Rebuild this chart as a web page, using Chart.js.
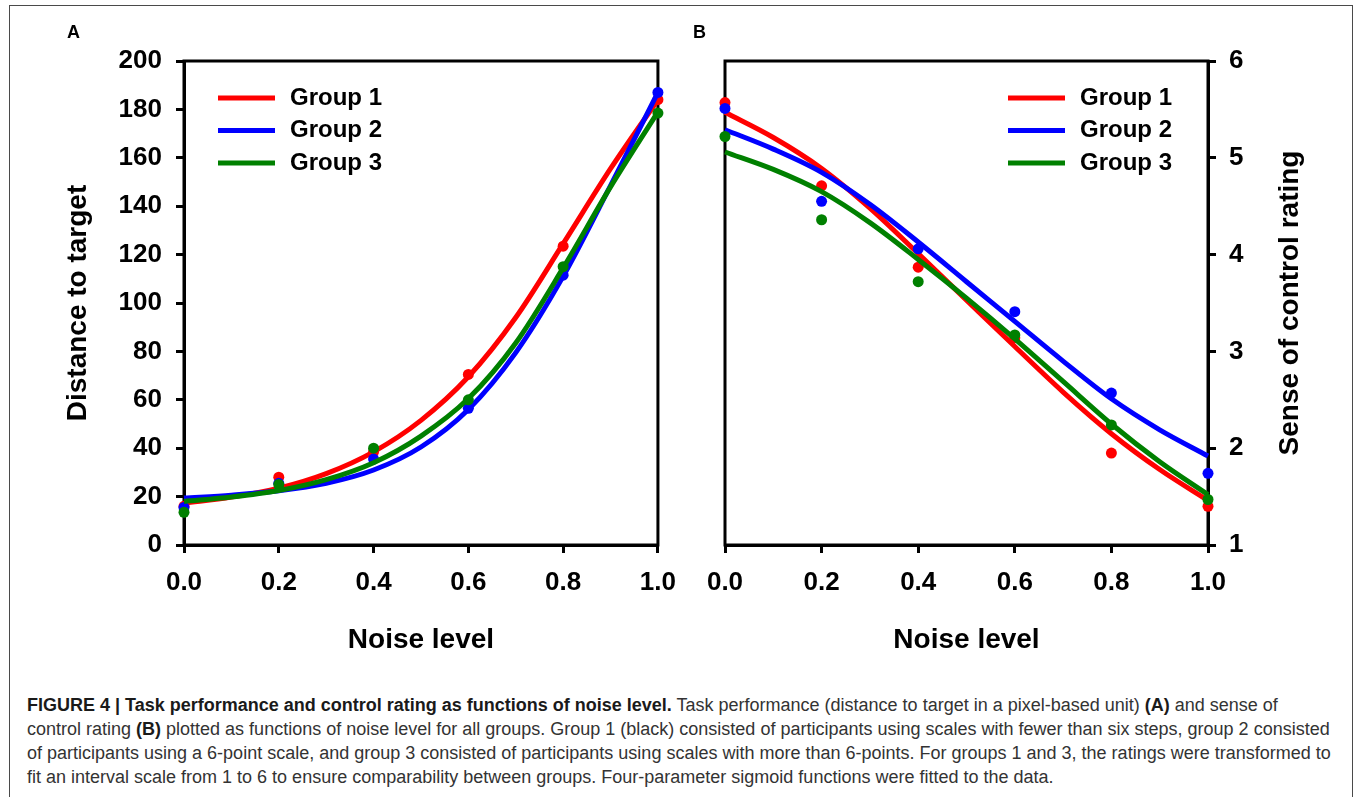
<!DOCTYPE html>
<html>
<head>
<meta charset="utf-8">
<script src="https://cdn.jsdelivr.net/npm/chart.js@4.4.1/dist/chart.umd.min.js"></script>
<style>
html,body{margin:0;padding:0;background:#fff;}
body{width:1355px;height:797px;position:relative;overflow:hidden;font-family:"Liberation Sans",Arial,sans-serif;}
#frame{position:absolute;left:9px;top:5px;width:1344px;height:820px;border:1px solid #4a4a4a;box-sizing:border-box;}
#cA{position:absolute;left:0;top:0;}
#cB{position:absolute;left:690px;top:0;}
.panel{position:absolute;font-weight:bold;font-size:18px;line-height:18px;color:#000;}
#caption{position:absolute;left:27px;top:693px;font-family:"Liberation Sans",Arial,sans-serif;font-size:18px;line-height:24px;color:#333;white-space:nowrap;}
#caption b{color:#1a1a1a;}
</style>
</head>
<body>
<div id="frame"></div>
<canvas id="cA" width="690" height="665"></canvas>
<canvas id="cB" width="665" height="665"></canvas>
<div class="panel" style="left:67px;top:23px;">A</div>
<div class="panel" style="left:693px;top:23px;">B</div>
<div id="caption"><b>FIGURE 4 | Task performance and control rating as functions of noise level.</b> Task performance (distance to target in a pixel-based unit) <b>(A)</b> and sense of<br>control rating <b>(B)</b> plotted as functions of noise level for all groups. Group 1 (black) consisted of participants using scales with fewer than six steps, group 2 consisted<br>of participants using a 6-point scale, and group 3 consisted of participants using scales with more than 6-points. For groups 1 and 3, the ratings were transformed to<br>fit an interval scale from 1 to 6 to ensure comparability between groups. Four-parameter sigmoid functions were fitted to the data.</div>
<script>
// ---- data ----
const noiseLevels = [0, 0.2, 0.4, 0.6, 0.8, 1.0];
const curveNoise = [0, 0.1, 0.2, 0.3, 0.4, 0.5, 0.6, 0.7, 0.8, 0.9, 1.0];
const groupLabels = ['Group 1', 'Group 2', 'Group 3'];
const groupColors = ['#ff0000', '#0000ff', '#008000'];
const xTickLabels = ['0.0', '0.2', '0.4', '0.6', '0.8', '1.0'];
const distanceTicks = [0, 20, 40, 60, 80, 100, 120, 140, 160, 180, 200];
const controlTicks = [1, 2, 3, 4, 5, 6];

// Panel A: distance to target (observed means)
const distanceG1 = [16, 28, 38.5, 70.5, 123.5, 184];
const distanceG2 = [15.5, 25.5, 35.5, 56.5, 111.5, 187];
const distanceG3 = [13.5, 25, 40, 60, 115, 178.5];
// Panel A: fitted sigmoid curves
const distanceFitG1 = [17.3, 19.8, 23.5, 29.5, 38.5, 51.5, 69.5, 94, 124.5, 155.5, 184];
const distanceFitG2 = [19.4, 20.6, 22.4, 25.5, 31, 40.5, 56, 79.5, 111, 148.5, 187];
const distanceFitG3 = [18, 19.8, 22.5, 27, 34, 45, 60.5, 83.5, 114.5, 148, 179];

// Panel B: sense of control rating (observed means)
const controlG1 = [5.57, 4.71, 3.87, 3.14, 1.95, 1.40];
const controlG2 = [5.51, 4.55, 4.06, 3.41, 2.57, 1.74];
const controlG3 = [5.22, 4.36, 3.72, 3.17, 2.24, 1.47];
// Panel B: fitted sigmoid curves
const controlFitG1 = [5.47, 5.21, 4.89, 4.48, 4.01, 3.53, 3.05, 2.58, 2.15, 1.78, 1.46];
const controlFitG2 = [5.29, 5.09, 4.85, 4.52, 4.13, 3.72, 3.31, 2.9, 2.51, 2.19, 1.92];
const controlFitG3 = [5.06, 4.88, 4.65, 4.33, 3.95, 3.55, 3.13, 2.69, 2.25, 1.86, 1.52];

// ---- helpers ----
const FONT = '"Liberation Sans", Arial, sans-serif';
Chart.defaults.font.family = FONT;
Chart.defaults.color = '#000';

function buildDatasets(pointSets, fitSets) {
  const ds = [];
  for (let i = 0; i < 3; i++) {
    ds.push({
      label: groupLabels[i],
      data: curveNoise.map((x, j) => ({x: x, y: fitSets[i][j]})),
      borderColor: groupColors[i],
      backgroundColor: groupColors[i],
      borderWidth: 5,
      pointRadius: 0,
      cubicInterpolationMode: 'monotone',
      fill: false,
      clip: false,
      order: 6 - 2 * i
    });
    ds.push({
      label: groupLabels[i] + ' data',
      data: noiseLevels.map((x, j) => ({x: x, y: pointSets[i][j]})),
      showLine: false,
      backgroundColor: groupColors[i],
      borderColor: groupColors[i],
      borderWidth: 0,
      pointRadius: 5.5,
      clip: false,
      order: 5 - 2 * i
    });
  }
  return ds;
}

const framePlugin = {
  id: 'frameBox',
  beforeDatasetsDraw(chart) {
    const {ctx, chartArea: ca} = chart;
    ctx.save();
    ctx.strokeStyle = '#000';
    ctx.lineWidth = 3;
    ctx.strokeRect(ca.left, ca.top, ca.right - ca.left, ca.bottom - ca.top);
    ctx.restore();
  }
};

const legendPlugin = {
  id: 'groupLegend',
  afterDatasetsDraw(chart, args, opts) {
    const {ctx, chartArea: ca} = chart;
    ctx.save();
    ctx.font = 'bold 24px ' + FONT;
    ctx.textBaseline = 'middle';
    ctx.textAlign = 'left';
    const lines = chart.data.datasets.filter(d => d.showLine !== false);
    lines.forEach((d, i) => {
      const y = ca.top + opts.top + i * opts.spacing;
      const x0 = ca.left + opts.left;
      ctx.strokeStyle = d.borderColor;
      ctx.lineWidth = 5;
      ctx.beginPath();
      ctx.moveTo(x0, y);
      ctx.lineTo(x0 + opts.lineLen, y);
      ctx.stroke();
      ctx.fillStyle = '#000';
      ctx.fillText(d.label, x0 + opts.lineLen + 15, y);
    });
    ctx.restore();
  }
};

const rightTitlePlugin = {
  id: 'rightTitle',
  afterDraw(chart, args, opts) {
    if (!opts.text) return;
    const {ctx, chartArea: ca} = chart;
    ctx.save();
    ctx.font = 'bold 28px ' + FONT;
    ctx.fillStyle = '#000';
    ctx.textAlign = 'center';
    ctx.textBaseline = 'middle';
    ctx.translate(opts.x, (ca.top + ca.bottom) / 2);
    ctx.rotate(-Math.PI / 2);
    ctx.fillText(opts.text, 0, 0);
    ctx.restore();
  }
};

function axisCommon() {
  return {
    grid: {display: true, drawOnChartArea: false, drawTicks: true, tickLength: 8, tickWidth: 3, tickColor: '#000', color: '#000', lineWidth: 3},
    border: {display: true, color: '#000', width: 3}
  };
}

function xAxis() {
  return Object.assign(axisCommon(), {
    type: 'linear', position: 'bottom', min: 0, max: 1,
    afterBuildTicks: s => { s.ticks = noiseLevels.map(v => ({value: v})); },
    ticks: {
      font: {size: 26, weight: 'bold'}, color: '#000', padding: 14, maxRotation: 0, autoSkip: false,
      callback: (v, i) => xTickLabels[i]
    },
    title: {display: true, text: 'Noise level', font: {size: 28, weight: 'bold'}, color: '#000', padding: {top: 0, bottom: 8}},
    afterFit: s => { s.height = 120; }
  });
}

// ---- Panel A ----
new Chart(document.getElementById('cA'), {
  type: 'line',
  data: {datasets: buildDatasets([distanceG1, distanceG2, distanceG3], [distanceFitG1, distanceFitG2, distanceFitG3])},
  options: {
    responsive: false, animation: false, devicePixelRatio: 1,
    layout: {padding: {left: 0, top: 61, right: 22, bottom: 0}},
    plugins: {legend: {display: false}, tooltip: {enabled: false},
      groupLegend: {left: 34, top: 37, spacing: 32.5, lineLen: 57}},
    scales: {
      x: xAxis(),
      y: Object.assign(axisCommon(), {
        type: 'linear', position: 'left', min: 0, max: 200,
        afterBuildTicks: s => { s.ticks = distanceTicks.map(v => ({value: v})); },
        ticks: {font: {size: 26, weight: 'bold'}, color: '#000', padding: 14, autoSkip: false},
        title: {display: true, text: 'Distance to target', font: {size: 28, weight: 'bold'}, color: '#000', padding: {top: 61, bottom: 0}},
        afterFit: s => { s.width = 184; }
      })
    }
  },
  plugins: [framePlugin, legendPlugin]
});

// ---- Panel B ----
new Chart(document.getElementById('cB'), {
  type: 'line',
  data: {datasets: buildDatasets([controlG1, controlG2, controlG3], [controlFitG1, controlFitG2, controlFitG3])},
  options: {
    responsive: false, animation: false, devicePixelRatio: 1,
    layout: {padding: {left: 35, top: 61, right: 0, bottom: 0}},
    plugins: {legend: {display: false}, tooltip: {enabled: false},
      groupLegend: {left: 283, top: 37, spacing: 32.5, lineLen: 57},
      rightTitle: {text: 'Sense of control rating', x: 600}},
    scales: {
      x: xAxis(),
      y: Object.assign(axisCommon(), {
        type: 'linear', position: 'right', min: 1, max: 6,
        afterBuildTicks: s => { s.ticks = controlTicks.map(v => ({value: v})); },
        ticks: {font: {size: 26, weight: 'bold'}, color: '#000', padding: 13, autoSkip: false},
        title: {display: false},
        afterFit: s => { s.width = 147; }
      })
    }
  },
  plugins: [framePlugin, legendPlugin, rightTitlePlugin]
});
</script>
</body>
</html>
